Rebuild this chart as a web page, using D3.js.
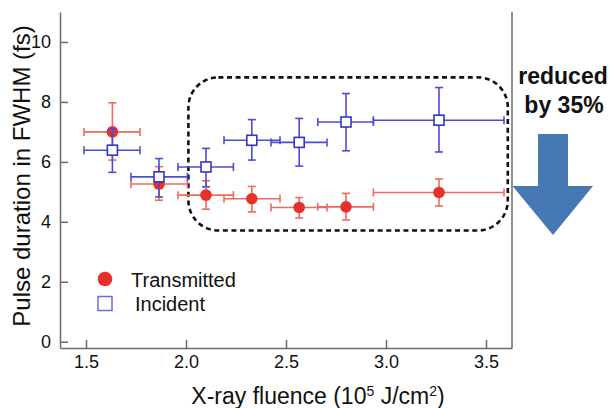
<!DOCTYPE html>
<html>
<head>
<meta charset="utf-8">
<script src="https://cdn.jsdelivr.net/npm/d3@7"></script>
<style>
  body { margin: 0; background: #fff; }
  svg { display: block; font-family: "Liberation Sans", Arial, Helvetica, sans-serif; }
</style>
</head>
<body>
<svg width="610" height="408"></svg>
<script>
// fluence (10^5 J/cm2), shared by both series
let fluence = [1.632, 1.865, 2.10, 2.329, 2.566, 2.80, 3.265]
let fluenceLo = [1.49, 1.725, 1.96, 2.19, 2.425, 2.659, 2.937]
let fluenceHi = [1.77, 2.007, 2.237, 2.47, 2.705, 2.937, 3.59]

// pulse duration (fs)
let transmitted = [7.0, 5.26, 4.89, 4.77, 4.48, 4.5, 4.98]
let transmittedLo = [6.06, 4.72, 4.42, 4.33, 4.13, 4.06, 4.53]
let transmittedHi = [7.97, 5.84, 5.37, 5.18, 4.81, 4.95, 5.43]

let incident = [6.39, 5.5, 5.83, 6.72, 6.65, 7.33, 7.39]
let incidentLo = [5.65, 4.83, 5.17, 6.06, 5.86, 6.37, 6.33]
let incidentHi = [7.11, 6.11, 6.45, 7.41, 7.45, 8.28, 8.48]

let xTicks = [1.5, 2.0, 2.5, 3.0, 3.5]
let yTicks = [0, 2, 4, 6, 8, 10]

// dashed box around the high-fluence points, in data units
let boxX = [2.012, 3.609]
let boxY = [3.71, 8.82]

let svg = d3.select('svg')

let x = d3.scaleLinear().domain([1.37, 3.63]).range([60, 512])
let y = d3.scaleLinear().domain([-0.21, 11]).range([348, 12])

let axisColor = '#6b6b6b'

// axes, ticks pointing inward
let xAxis = svg.append('g')
  .attr('transform', `translate(0,${y.range()[0]})`)
  .call(d3.axisBottom(x).tickValues(xTicks).tickFormat(d3.format('.1f'))
    .tickSizeInner(-8).tickSizeOuter(0).tickPadding(7))

let yAxis = svg.append('g')
  .attr('transform', `translate(${x.range()[0]},0)`)
  .call(d3.axisLeft(y).tickValues(yTicks).tickFormat(d3.format('d'))
    .tickSizeInner(-8).tickSizeOuter(0).tickPadding(9))

;[xAxis, yAxis].forEach(a => {
  a.selectAll('path, line').attr('stroke', axisColor).attr('stroke-width', 1.5)
  a.selectAll('text').attr('fill', '#111').style('font-size', '18px')
    .style('font-family', '"Liberation Sans", Arial, sans-serif')
})

// right frame line
svg.append('line')
  .attr('x1', x.range()[1]).attr('x2', x.range()[1])
  .attr('y1', y.range()[1]).attr('y2', y.range()[0])
  .attr('stroke', axisColor).attr('stroke-width', 1.5)

// axis titles
svg.append('text')
  .attr('transform', 'translate(30,176) rotate(-90)')
  .attr('text-anchor', 'middle')
  .style('font-size', '24px')
  .attr('fill', '#111')
  .text('Pulse duration in FWHM (fs)')

let xt = svg.append('text')
  .attr('x', 318).attr('y', 404)
  .attr('text-anchor', 'middle')
  .style('font-size', '23px')
  .attr('fill', '#111')
xt.append('tspan').text('X-ray fluence (10')
xt.append('tspan').attr('dy', -8).style('font-size', '14px').text('5')
xt.append('tspan').attr('dy', 8).text(' J/cm')
xt.append('tspan').attr('dy', -8).style('font-size', '14px').text('2')
xt.append('tspan').attr('dy', 8).text(')')

// dashed rounded box
svg.append('rect')
  .attr('x', x(boxX[0])).attr('y', y(boxY[1]))
  .attr('width', x(boxX[1]) - x(boxX[0]))
  .attr('height', y(boxY[0]) - y(boxY[1]))
  .attr('rx', 30).attr('ry', 30)
  .attr('fill', 'none')
  .attr('stroke', '#111')
  .attr('stroke-width', 2.6)
  .attr('stroke-dasharray', '5,3.6')

function drawSeries(vals, lo, hi, barColor) {
  let g = svg.append('g')
    .attr('stroke', barColor)
    .attr('stroke-width', 1.6)
  let cap = 4

  vals.forEach((v, i) => {
    let cx = x(fluence[i]), cy = y(v)
    // horizontal bar
    g.append('line').attr('x1', x(fluenceLo[i])).attr('x2', x(fluenceHi[i]))
      .attr('y1', cy).attr('y2', cy)
    g.append('line').attr('x1', x(fluenceLo[i])).attr('x2', x(fluenceLo[i]))
      .attr('y1', cy - cap).attr('y2', cy + cap)
    g.append('line').attr('x1', x(fluenceHi[i])).attr('x2', x(fluenceHi[i]))
      .attr('y1', cy - cap).attr('y2', cy + cap)
    // vertical bar
    g.append('line').attr('x1', cx).attr('x2', cx)
      .attr('y1', y(lo[i])).attr('y2', y(hi[i]))
    g.append('line').attr('x1', cx - cap).attr('x2', cx + cap)
      .attr('y1', y(lo[i])).attr('y2', y(lo[i]))
    g.append('line').attr('x1', cx - cap).attr('x2', cx + cap)
      .attr('y1', y(hi[i])).attr('y2', y(hi[i]))
  })
}

// transmitted (red) first, incident (blue) on top
drawSeries(transmitted, transmittedLo, transmittedHi, '#ef6a5c')
svg.append('g').selectAll('circle')
  .data(transmitted)
  .enter().append('circle')
  .attr('cx', (d, i) => x(fluence[i]))
  .attr('cy', d => y(d))
  .attr('r', 5.8)
  .attr('fill', '#e8302a')

drawSeries(incident, incidentLo, incidentHi, '#4b4bd6')
svg.append('g').selectAll('rect')
  .data(incident)
  .enter().append('rect')
  .attr('x', (d, i) => x(fluence[i]) - 5)
  .attr('y', d => y(d) - 5)
  .attr('width', 10).attr('height', 10)
  .attr('fill', '#fff')
  .attr('stroke', '#3434c8')
  .attr('stroke-width', 1.6)

// legend
svg.append('circle').attr('cx', 105).attr('cy', 279).attr('r', 7.3).attr('fill', '#e8302a')
svg.append('text').attr('x', 131).attr('y', 286.5).style('font-size', '20px')
  .attr('fill', '#111').text('Transmitted')
svg.append('rect').attr('x', 98).attr('y', 296.5).attr('width', 14).attr('height', 14)
  .attr('fill', '#fff').attr('stroke', '#6a6ae0').attr('stroke-width', 1.5)
svg.append('text').attr('x', 135).attr('y', 310.5).style('font-size', '20px')
  .attr('fill', '#111').text('Incident')

// annotation: reduced by 35%
svg.append('text').attr('x', 563).attr('y', 84).attr('text-anchor', 'middle')
  .style('font-size', '23px').style('font-weight', 'bold').attr('fill', '#111')
  .text('reduced')
svg.append('text').attr('x', 564).attr('y', 113).attr('text-anchor', 'middle')
  .style('font-size', '23px').style('font-weight', 'bold').attr('fill', '#111')
  .text('by 35%')

let arrow = [[538, 134], [568, 134], [568, 186], [593, 186], [553, 235], [512.5, 186], [538, 186]]
svg.append('path')
  .attr('d', d3.line()(arrow) + 'Z')
  .attr('fill', '#4679b3')
</script>
</body>
</html>
